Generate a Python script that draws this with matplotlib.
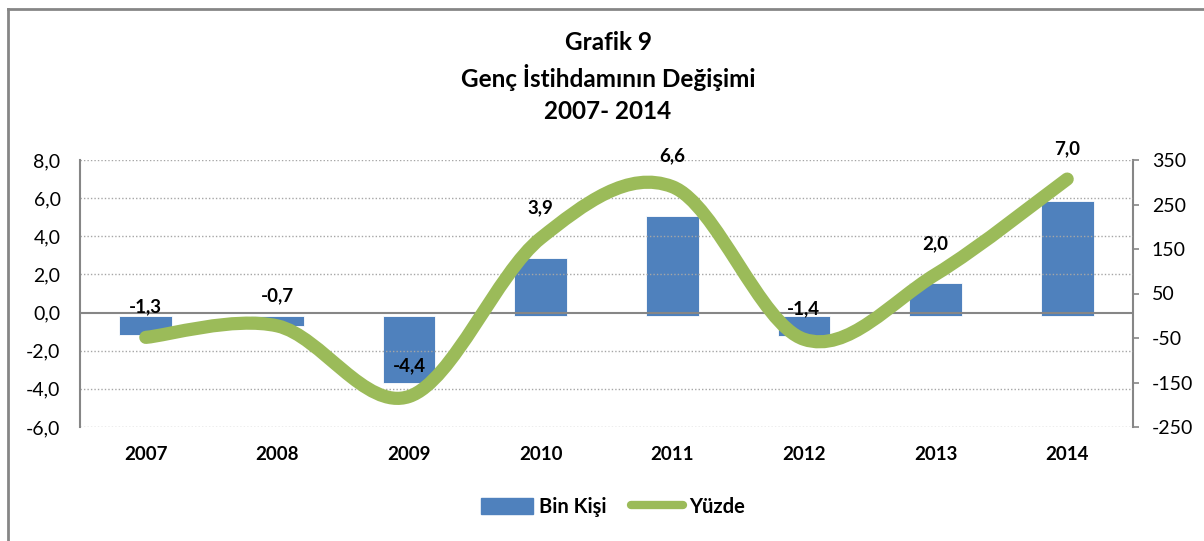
import numpy as np
import matplotlib
matplotlib.use("Agg")
import matplotlib.pyplot as plt
from matplotlib.path import Path
from matplotlib.patches import PathPatch
from matplotlib.lines import Line2D
from matplotlib.patches import Patch

plt.rcParams["font.family"] = ["Lato", "DejaVu Sans"]

years = ["2007", "2008", "2009", "2010", "2011", "2012", "2013", "2014"]
bin_kisi = [-43, -22, -150, 129, 224, -45, 73, 258]  # right axis, thousands
yuzde = [-1.3, -0.7, -4.4, 3.9, 6.6, -1.4, 2.0, 7.0]  # left axis, percent
yuzde_labels = ["-1,3", "-0,7", "-4,4", "3,9", "6,6", "-1,4", "2,0", "7,0"]

left_ticks = [-6, -4, -2, 0, 2, 4, 6, 8]
left_ticklabels = ["-6,0", "-4,0", "-2,0", "0,0", "2,0", "4,0", "6,0", "8,0"]
right_ticks = [-250, -150, -50, 50, 150, 250, 350]
right_ticklabels = ["-250", "-150", "-50", "50", "150", "250", "350"]

title = "Grafik 9\nGenç İstihdamının Değişimi\n2007- 2014"

BAR = "#4F81BD"
GREEN = "#9BBB59"
GREY = "#868686"


def smooth_path(xs, ys):
    # excel-like smoothed line: catmull-rom as cubic bezier
    pts = np.column_stack([xs, ys]).astype(float)
    n = len(pts)
    verts = [pts[0]]
    codes = [Path.MOVETO]
    for i in range(n - 1):
        p0 = pts[max(i - 1, 0)]
        p1 = pts[i]
        p2 = pts[i + 1]
        p3 = pts[min(i + 2, n - 1)]
        c1 = p1 + (p2 - p0) / 6.0
        c2 = p2 - (p3 - p1) / 6.0
        verts += [c1, c2, p2]
        codes += [Path.CURVE4] * 3
    return Path(verts, codes)


fig = plt.figure(figsize=(12.04, 5.41), dpi=100)
ax = fig.add_axes([80 / 1204, 1 - 427 / 541, (1133 - 80) / 1204, 267 / 541])
ax2 = ax.twinx()

x = np.arange(len(years))

# bars on secondary axis (Bin Kişi)
ax2.bar(x, bin_kisi, width=0.4, color=BAR, edgecolor="white", linewidth=0.6, zorder=2)
ax2.set_ylim(-250, 350)
ax2.set_yticks(right_ticks)
ax2.set_yticklabels(right_ticklabels)
ax2.tick_params(axis="y", length=4.5, width=1.2, color=GREY, pad=9, labelsize=14)

# line on primary axis, drawn above bars
ax.set_zorder(ax2.get_zorder() + 1)
ax.patch.set_visible(False)
ax.set_xlim(-0.5, len(years) - 0.5)
ax.set_ylim(-6, 8)
ax.set_yticks(left_ticks)
ax.set_yticklabels(left_ticklabels)
ax.set_xticks(x)
ax.set_xticklabels(years, fontweight="bold")
ax.tick_params(axis="y", length=0, pad=14, labelsize=14)
ax.tick_params(axis="x", length=0, pad=14, labelsize=13.5)

for t in left_ticks:
    if t == 0:
        ax.axhline(0, color=GREY, lw=1.5, zorder=1)
    else:
        ax.axhline(t, color="#A6A6A6", lw=1.0, ls=(0, (1, 1.5)), zorder=1)

ax.add_patch(PathPatch(smooth_path(x, yuzde), facecolor="none", edgecolor=GREEN,
                       lw=9.5, capstyle="round", joinstyle="round", zorder=3))

for xi, yi, lab in zip(x, yuzde, yuzde_labels):
    ax.annotate(lab, (xi, yi), xytext=(0, 22), textcoords="offset points",
                ha="center", va="center", fontsize=13.5, fontweight="bold", zorder=4)

for a in (ax, ax2):
    for s in ("top", "bottom", "left", "right"):
        a.spines[s].set_visible(False)
ax.spines["left"].set_visible(True)
ax.spines["left"].set_color(GREY)
ax.spines["left"].set_linewidth(1.5)
ax2.spines["right"].set_visible(True)
ax2.spines["right"].set_color(GREY)
ax2.spines["right"].set_linewidth(1.5)

fig.text(0.505, 1 - 77 / 541, title, ha="center", va="center", fontsize=17.5,
         fontweight="bold", linespacing=1.45)

handles = [Patch(color=BAR, label="Bin Kişi"),
           Line2D([], [], color=GREEN, lw=6, solid_capstyle="round", label="Yüzde")]
fig.legend(handles=handles, loc="center", bbox_to_anchor=(613 / 1204, 1 - 507 / 541),
           ncol=2, frameon=False, prop={"weight": "bold", "size": 14.5},
           handlelength=2.6, handleheight=0.9, handletextpad=0.3, columnspacing=1.2)

# chart border (only top and left visible in the crop)
fig.add_artist(Line2D([8 / 1204, 8 / 1204], [0, 1 - 9 / 541], color=GREY, lw=2))
fig.add_artist(Line2D([8 / 1204, 1], [1 - 9 / 541, 1 - 9 / 541], color=GREY, lw=2))

fig.savefig("out.png", dpi=100)
